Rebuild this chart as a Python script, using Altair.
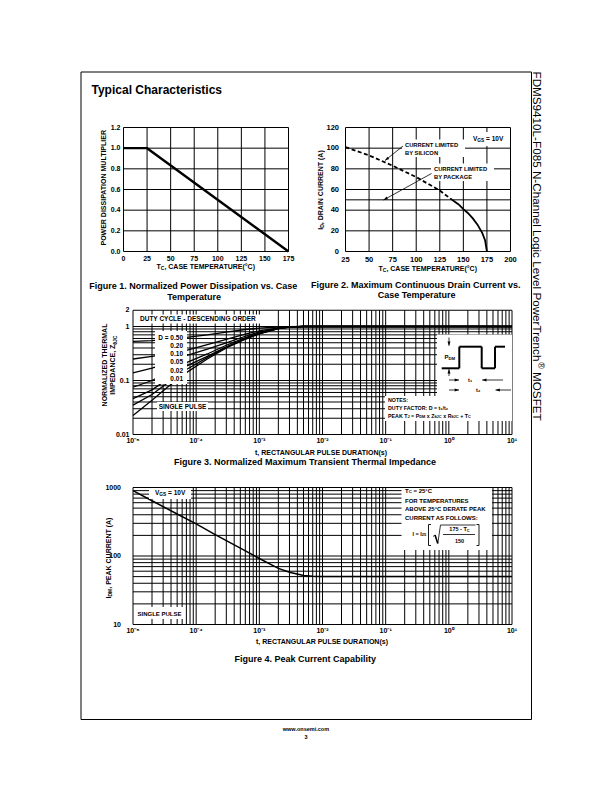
import math
import altair as alt
import pandas as pd

FONT = "Liberation Sans"
OFF = 8.0            # page margin
CW, CH = 596, 776    # drawing area
GRID_W = 1.0

# ------------------------------------------------------------------ data
# Figure 1 : power dissipation multiplier vs case temperature
fig1_temp = [0, 25, 175]
fig1_mult = [1.0, 1.0, 0.0]
fig1_xticks = [0, 25, 50, 75, 100, 125, 150, 175]
fig1_xlabels = ["0", "25", "50", "75", "100", "125", "150", "175"]
fig1_yticks = [0.0, 0.2, 0.4, 0.6, 0.8, 1.0, 1.2]
fig1_ylabels = ["0.0", "0.2", "0.4", "0.6", "0.8", "1.0", "1.2"]

# Figure 2 : maximum continuous drain current vs case temperature
fig2_si_temp = [25, 50, 75, 100, 125, 138]
fig2_si_curr = [101, 93, 83, 72, 59, 50]
fig2_pkg_temp = [138, 145, 150, 155, 160, 165, 170, 173, 175]
fig2_pkg_curr = [50, 45.5, 41, 37, 32, 26, 18, 11, 0]
fig2_xticks = [25, 50, 75, 100, 125, 150, 175, 200]
fig2_xlabels = ["25", "50", "75", "100", "125", "150", "175", "200"]
fig2_yticks = [0, 20, 40, 60, 80, 100, 120]
fig2_ylabels = ["0", "20", "40", "60", "80", "100", "120"]
fig2_hgrid = [0, 20, 40, 50, 60, 80, 100, 120]

# Figure 3 : normalized transient thermal impedance
fig3_t = [1e-5, 2e-5, 3.5e-5, 7e-5, 1.5e-4, 3e-4, 6e-4, 1e-3, 2e-3, 3e-3, 5e-3, 10]
fig3_duty = ["0.50", "0.20", "0.10", "0.05", "0.02", "0.01", "single"]
fig3_z = {
    "0.50":   [0.53, 0.55, 0.58, 0.63, 0.70, 0.79, 0.88, 0.93, 0.98, 0.995, 1.0, 1.0],
    "0.20":   [0.25, 0.28, 0.31, 0.36, 0.46, 0.58, 0.72, 0.83, 0.945, 0.985, 1.0, 1.0],
    "0.10":   [0.138, 0.17, 0.21, 0.29, 0.38, 0.50, 0.66, 0.79, 0.93, 0.98, 1.0, 1.0],
    "0.05":   [0.075, 0.10, 0.14, 0.215, 0.31, 0.45, 0.62, 0.76, 0.925, 0.975, 1.0, 1.0],
    "0.02":   [0.046, 0.067, 0.105, 0.185, 0.28, 0.42, 0.60, 0.75, 0.92, 0.975, 1.0, 1.0],
    "0.01":   [0.035, 0.055, 0.09, 0.16, 0.265, 0.41, 0.59, 0.74, 0.915, 0.97, 1.0, 1.0],
    "single": [0.0225, 0.043, 0.075, 0.14, 0.25, 0.40, 0.58, 0.73, 0.91, 0.97, 1.0, 1.0],
}
fig3_yticks = [0.01, 0.1, 1, 2]
fig3_ylabels = ["0.01", "0.1", "1", "2"]

# Figure 4 : peak current capability
fig4_t = [1e-5, 2e-5, 5e-5, 1e-4, 2e-4, 5e-4, 1e-3, 2e-3, 3e-3, 5e-3, 7e-3, 1e-2, 10]
fig4_idm = [900, 640, 410, 295, 205, 130, 92, 66, 58, 52, 50.5, 50, 50]
fig4_yticks = [10, 100, 1000]
fig4_ylabels = ["10", "100", "1000"]

# shared log-axis ticks
pulse_ticks = [1e-5, 1e-4, 1e-3, 1e-2, 1e-1, 1, 10]
pulse_labels = ["10\u207b\u2075", "10\u207b\u2074", "10\u207b\u00b3", "10\u207b\u00b2",
                "10\u207b\u00b9", "10\u2070", "10\u00b9"]
grid_mult = [1, 2, 3, 4, 5, 6, 7, 8, 9]

# ------------------------------------------------------------------ text metrics
BW, RW = {}, {}
for chars, w in [(" ", 278), ("!", 333), ("()[]", 333), ("+=<>", 584), (",.", 278), ("-", 333),
                 ("/", 278), ("0123456789", 556), (":;", 333), ("ABCDHKNRUX", 722), ("EPSVXY", 667),
                 ("FTLZ", 611), ("GOQ", 778), ("IJ", 278), ("J", 556), ("M", 833), ("W", 944),
                 ("acekvxy", 556), ("bdghnopqu", 611), ("fijlt", 278), ("ft", 333), ("m", 889),
                 ("r", 389), ("s", 556), ("w", 778), ("z", 500), ("\u00b0", 400), ("\u03b8", 611),
                 ("\u00ae", 737), ("\u2081\u2082", 556)]:
    for ch in chars:
        BW[ch] = w
for chars, w in [(" ", 278), ("-", 333), ("0123456789", 556), ("ABEKPSVXY", 667), ("CDHNRU", 722),
                 ("FTZ", 611), ("GOQ", 778), ("I", 278), ("J", 500), ("L", 556), ("M", 833), ("W", 944),
                 ("abdeghnopqu", 556), ("ckvxyz", 500), ("s", 500), ("fijlt", 222), ("ft", 278),
                 ("m", 833), ("r", 333), ("w", 722), ("\u00ae", 737)]:
    for ch in chars:
        RW[ch] = w


def tw(s, size, bold=True):
    table = BW if bold else RW
    return sum(table.get(ch, 600) for ch in s) * size / 1000.0


def rich(x, y, segs, align="left", angle=0, bold=True):
    """Text run made of (text, size, dy) segments anchored at page point (x, y)."""
    total = sum(tw(t, s, bold) for t, s, _ in segs)
    cur = {"left": 0.0, "center": -total / 2.0, "right": -total}[align]
    out = []
    for t, s, dy in segs:
        body = t.lstrip(" ")
        lead = tw(t[:len(t) - len(body)], s, bold)
        out.append(
            alt.Chart().mark_text(text=body, font=FONT, fontSize=s,
                                  fontWeight="bold" if bold else "normal",
                                  align="left", baseline="middle", dx=cur + lead, dy=dy,
                                  angle=angle, color="black")
            .encode(x=alt.value(x - OFF), y=alt.value(y - OFF)))
        cur += tw(t, s, bold)
    return out


def txt(x, y, s, size, align="left", bold=True, angle=0):
    return rich(x, y, [(s, size, 0)], align=align, angle=angle, bold=bold)


def box(x1, y1, x2, y2):
    return alt.Chart().mark_rect(fill="white").encode(
        x=alt.value(x1 - OFF), x2=alt.value(x2 - OFF), y=alt.value(y1 - OFF), y2=alt.value(y2 - OFF))


def seg(x1, y1, x2, y2, w=1.0):
    return alt.Chart().mark_rule(color="black", strokeWidth=w).encode(
        x=alt.value(x1 - OFF), y=alt.value(y1 - OFF), x2=alt.value(x2 - OFF), y2=alt.value(y2 - OFF))


def poly(pts, w=1.0):
    return [seg(a[0], a[1], b[0], b[1], w) for a, b in zip(pts[:-1], pts[1:])]


def arrow(x1, y1, x2, y2, w=0.8, size=11):
    ang = (math.degrees(math.atan2(x2 - x1, -(y2 - y1))) + 360.0) % 360.0
    head = alt.Chart().mark_point(shape="M0,0L-0.9,2.6L0.9,2.6Z", filled=True, color="black",
                                  opacity=1, size=size, angle=ang, strokeWidth=0).encode(
        x=alt.value(x2 - OFF), y=alt.value(y2 - OFF))
    return [seg(x1, y1, x2, y2, w), head]


# ------------------------------------------------------------------ plot geometry (page px)
# (left, right, bottom, top)
B1 = (123.5, 288.5, 251.5, 127.5)
B2 = (345.5, 510.5, 251.5, 127.5)
B3 = (133.0, 512.0, 434.5, 310.25)
B4 = (133.0, 512.0, 624.5, 487.5)


def sx(dom, b, typ="linear"):
    return alt.Scale(type=typ, domain=dom, range=[b[0] - OFF, b[1] - OFF], nice=False)


def sy(dom, b, typ="linear"):
    return alt.Scale(type=typ, domain=dom, range=[b[2] - OFF, b[3] - OFF], nice=False)


def log_lines(e0, e1):
    vals = [round(m * 10.0 ** e, 12) for e in range(e0, e1) for m in grid_mult]
    vals.append(10.0 ** e1)
    return vals


def tick_text(xsc, ysc, values, labels, along, pos, size):
    df = pd.DataFrame({"v": values, "lab": labels})
    base = dict(font=FONT, fontSize=size, fontWeight="bold", color="black", baseline="middle")
    if along == "x":
        return alt.Chart(df).mark_text(align="center", **base).encode(
            x=alt.X("v:Q", scale=xsc, axis=None), y=alt.value(pos - OFF), text="lab:N")
    return alt.Chart(df).mark_text(align="right", **base).encode(
        y=alt.Y("v:Q", scale=ysc, axis=None), x=alt.value(pos - OFF), text="lab:N")


def figure(xsc, ysc, xdom, ydom, vlines, hlines, curves, xt, yt):
    v = alt.Chart(pd.DataFrame({"v": vlines, "lo": ydom[0], "hi": ydom[1]})).mark_rule(
        color="black", strokeWidth=GRID_W).encode(
        x=alt.X("v:Q", scale=xsc, axis=None), y=alt.Y("lo:Q", scale=ysc, axis=None), y2="hi:Q")
    h = alt.Chart(pd.DataFrame({"v": hlines, "lo": xdom[0], "hi": xdom[1]})).mark_rule(
        color="black", strokeWidth=GRID_W).encode(
        y=alt.Y("v:Q", scale=ysc, axis=None), x=alt.X("lo:Q", scale=xsc, axis=None), x2="hi:Q")
    xl = tick_text(xsc, ysc, *xt)
    yl = tick_text(xsc, ysc, *yt)
    return alt.layer(v, h, *curves, xl, yl)


# ---- Figure 1
X1, Y1 = sx([0, 175], B1), sy([0, 1.2], B1)
c1 = alt.Chart(pd.DataFrame({"t": fig1_temp, "m": fig1_mult})).mark_line(
    color="black", strokeWidth=2.4).encode(
    x=alt.X("t:Q", scale=X1, axis=None), y=alt.Y("m:Q", scale=Y1, axis=None))
fig1 = figure(X1, Y1, [0, 175], [0, 1.2], fig1_xticks, fig1_yticks, [c1],
              (fig1_xticks, fig1_xlabels, "x", 258.8, 7), (fig1_yticks, fig1_ylabels, "y", 120.5, 7))

# ---- Figure 2
X2, Y2 = sx([25, 200], B2), sy([0, 120], B2)
c2a = alt.Chart(pd.DataFrame({"t": fig2_si_temp, "i": fig2_si_curr})).mark_line(
    color="black", strokeWidth=1.8, strokeDash=[4, 2.5]).encode(
    x=alt.X("t:Q", scale=X2, axis=None), y=alt.Y("i:Q", scale=Y2, axis=None))
c2b = alt.Chart(pd.DataFrame({"t": fig2_pkg_temp, "i": fig2_pkg_curr})).mark_line(
    color="black", strokeWidth=1.8).encode(
    x=alt.X("t:Q", scale=X2, axis=None), y=alt.Y("i:Q", scale=Y2, axis=None))
fig2 = figure(X2, Y2, [25, 200], [0, 120], fig2_xticks, fig2_hgrid, [c2a, c2b],
              (fig2_xticks, fig2_xlabels, "x", 260.3, 7.5), (fig2_yticks, fig2_ylabels, "y", 339, 7.5))

# ---- Figure 3
X3, Y3 = sx([1e-5, 10], B3, "log"), sy([0.01, 2], B3, "log")
rows3 = [{"t": t, "z": z, "d": d} for d in fig3_duty for t, z in zip(fig3_t, fig3_z[d])]
c3 = alt.Chart(pd.DataFrame(rows3)).mark_line(color="black", strokeWidth=1.3).encode(
    x=alt.X("t:Q", scale=X3, axis=None), y=alt.Y("z:Q", scale=Y3, axis=None), detail="d:N")
fig3 = figure(X3, Y3, [1e-5, 10], [0.01, 2], log_lines(-5, 1), log_lines(-2, 0) + [2], [c3],
              (pulse_ticks, pulse_labels, "x", 441.3, 7), (fig3_yticks, fig3_ylabels, "y", 129.5, 7))

# ---- Figure 4
X4, Y4 = sx([1e-5, 10], B4, "log"), sy([10, 1000], B4, "log")
c4 = alt.Chart(pd.DataFrame({"t": fig4_t, "i": fig4_idm})).mark_line(
    color="black", strokeWidth=1.5).encode(
    x=alt.X("t:Q", scale=X4, axis=None), y=alt.Y("i:Q", scale=Y4, axis=None))
fig4 = figure(X4, Y4, [1e-5, 10], [10, 1000], log_lines(-5, 1), log_lines(1, 3), [c4],
              (pulse_ticks, pulse_labels, "x", 631, 7), (fig4_yticks, fig4_ylabels, "y", 121, 7))

# ------------------------------------------------------------------ page furniture & annotations
boxes = [
    # fig 2
    box(470, 132, 507, 146), box(402, 139.5, 465, 157), box(431, 163.5, 494, 181),
    # fig 3
    box(137.5, 314.5, 262, 323.5), box(155, 331, 187, 384), box(157, 402, 208, 411),
    box(437, 334.5, 512, 396), box(385, 396, 512, 421),
    # fig 4
    box(149, 488, 191, 499), box(135, 607, 184, 619), box(401.5, 488, 492, 550),
]

ann = []
# page frame
ann += [seg(81, 72, 531.5, 72), seg(81, 719.5, 531.5, 719.5), seg(81, 72, 81, 719.5),
        seg(531.5, 72, 531.5, 719.5)]
ann += txt(91.5, 90, "Typical Characteristics", 12)
ann += rich(536.5, 71.5, [("FDMS9410L-F085 N-Channel Logic Level PowerTrench", 11.7, 0),
                          ("\u00ae", 9, -4), (" MOSFET", 11.7, 0)], angle=90, bold=False)
ann += txt(306, 729, "www.onsemi.com", 5.5, align="center")
ann += txt(306, 737, "3", 5.5, align="center")

# figure 1 titles
ann += txt(104, 187, "POWER DISSIPATION MULTIPLIER", 7, align="center", angle=270)
ann += rich(206, 266.5, [("T", 7, 0), ("C", 5, 1.8), (", CASE TEMPERATURE(\u00b0C)", 7, 0)], align="center")
ann += txt(194.5, 285.5, "Figure 1.  Normalized Power Dissipation vs. Case", 9, align="center")
ann += txt(194.5, 296.5, "Temperature", 9, align="center")

# figure 2 titles & notes
ann += rich(320.5, 190, [("I", 7, 0), ("D", 5, 1.8), (", DRAIN CURRENT (A)", 7, 0)], align="center", angle=270)
ann += rich(428, 268.5, [("T", 7, 0), ("C", 5, 1.8), (", CASE TEMPERATURE(\u00b0C)", 7, 0)], align="center")
ann += txt(417, 284.5, "Figure 2.  Maximum Continuous Drain Current vs.", 9, align="center")
ann += txt(417, 295, "Case Temperature", 9, align="center")
ann += rich(473, 139, [("V", 6.5, 0), ("GS", 4.8, 1.8), (" = 10V", 6.5, 0)])
ann += txt(405, 144.5, "CURRENT LIMITED", 5.8)
ann += txt(405, 152.5, "BY SILICON", 5.8)
ann += txt(434, 168.5, "CURRENT LIMITED", 5.8)
ann += txt(434, 176.5, "BY PACKAGE", 5.8)
ann += arrow(403, 146, 385, 160.5)
ann += arrow(431.5, 173.5, 383.5, 200)

# figure 3 titles & notes
ann += txt(104.5, 365, "NORMALIZED THERMAL", 7, align="center", angle=270)
ann += rich(113, 365, [("IMPEDANCE, Z", 7, 0), ("\u03b8JC", 5, 1.8)], align="center", angle=270)
ann += txt(322.5, 452.5, "t, RECTANGULAR  PULSE DURATION(s)", 7, align="center")
ann += txt(306.5, 461.5, "Figure 3.  Normalized Maximum Transient Thermal Impedance", 9, align="center")
ann += txt(140, 319.2, "DUTY CYCLE - DESCENDING ORDER", 6.5)
for lab, yy in zip(["D = 0.50", "0.20", "0.10", "0.05", "0.02", "0.01"],
                   [337.5, 345.8, 354.1, 362.4, 370.7, 379.0]):
    ann += txt(183, yy, lab, 6.5, align="right")
ann += txt(182.5, 406.5, "SINGLE PULSE", 6.5, align="center")
ann += poly([(441.7, 368.3), (459.3, 368.3), (459.3, 346.7), (481.7, 346.7), (481.7, 368.3),
             (495, 368.3), (495, 346.7), (505, 346.7)], w=2)
ann += rich(444.5, 357, [("P", 6, 0), ("DM", 4.3, 1.6)])
ann += arrow(449, 337.5, 449, 345.8)
ann += arrow(449, 376, 449, 369.2)
ann += arrow(449, 380, 459, 380)
ann += arrow(503, 380, 482.2, 380)
ann += arrow(449, 390, 459, 390)
ann += arrow(511, 390, 495.5, 390)
ann += txt(470.5, 380, "t\u2081", 5.5, align="center")
ann += txt(478.5, 390, "t\u2082", 5.5, align="center")
ann += txt(388, 400, "NOTES:", 5.3)
ann += txt(388, 407.5, "DUTY FACTOR: D = t\u2081/t\u2082", 5.3)
ann += rich(388, 415.5, [("PEAK T", 5.3, 0), ("J", 3.9, 1.4), (" = P", 5.3, 0), ("DM", 3.9, 1.4),
                         (" x Z", 5.3, 0), ("\u03b8JC", 3.9, 1.4), (" x R", 5.3, 0), ("\u03b8JC", 3.9, 1.4),
                         (" + T", 5.3, 0), ("C", 3.9, 1.4)])

# figure 4 titles & notes
ann += rich(108.5, 558, [("I", 7, 0), ("DM", 5, 1.8), (", PEAK CURRENT (A)", 7, 0)], align="center", angle=270)
ann += txt(322.5, 641.5, "t, RECTANGULAR PULSE DURATION(s)", 7, align="center")
ann += txt(306.5, 658.5, "Figure 4.  Peak Current Capability", 9, align="center")
ann += rich(155, 493, [("V", 6.5, 0), ("GS", 4.8, 1.8), (" = 10V", 6.5, 0)])
ann += txt(159.5, 613.5, "SINGLE PULSE", 6, align="center")
ann += rich(405, 490.8, [("T", 6, 0), ("C", 4.4, 1.6), (" = 25\u00b0C", 6, 0)])
ann += txt(405, 500.5, "FOR TEMPERATURES", 6)
ann += txt(405, 509, "ABOVE 25\u00b0C DERATE PEAK", 6)
ann += txt(405, 518, "CURRENT AS FOLLOWS:", 6)
ann += rich(412.5, 533.5, [("I = I", 5.5, 0), ("25", 4.0, 1.5)])
ann += poly([(431, 524.5), (428.5, 524.5), (428.5, 545.5), (431, 545.5)], w=0.9)
ann += poly([(476.5, 524.5), (479, 524.5), (479, 545.5), (476.5, 545.5)], w=0.9)
ann += poly([(433, 536.5), (435, 535)], w=0.8)
ann += poly([(435, 535), (437.8, 543.5)], w=1.6)
ann += poly([(437.8, 543.5), (440.5, 525), (475.5, 525)], w=0.8)
ann += rich(459.5, 529, [("175 - T", 5.5, 0), ("C", 4.0, 1.5)], align="center")
ann.append(seg(443, 534.5, 475, 534.5, w=0.8))
ann += txt(459.5, 540.5, "150", 5.5, align="center")

chart = alt.layer(fig1, fig2, fig3, fig4, *boxes, *ann).resolve_scale(
    x="independent", y="independent"
).properties(
    width=CW, height=CH, padding=0, background="white",
    autosize=alt.AutoSizeParams(type="none"),
).configure_view(stroke=None)

chart.save("out.html", embed_options={"renderer": "svg", "actions": False})
